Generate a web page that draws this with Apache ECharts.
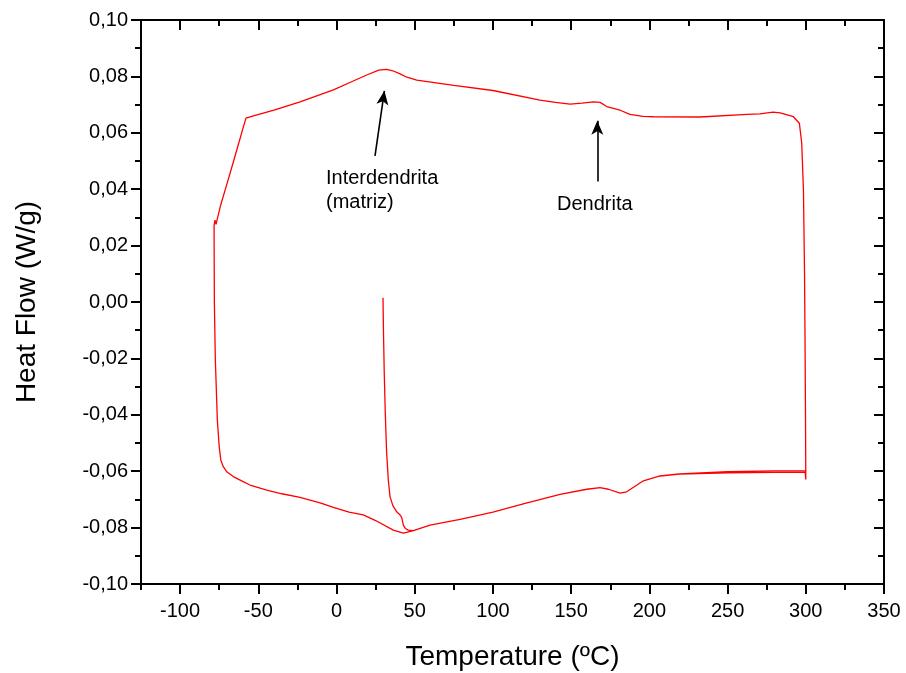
<!DOCTYPE html>
<html>
<head>
<meta charset="utf-8">
<script src="https://cdn.jsdelivr.net/npm/echarts@6/dist/echarts.min.js"></script>
<style>html,body{margin:0;padding:0;background:#fff}#c{width:906px;height:673px}</style>
</head>
<body>
<div id="c"></div>
<script>
// Temperature (ºC) and Heat Flow (W/g)
var dropT   = [29.7, 30.0, 30.5, 31.2, 32.0, 33.1, 34.2, 36.0, 38.5, 40.8, 41.7, 42.3, 42.7, 44.0, 45.9, 49.1];
var dropHF  = [0.0015, -0.010, -0.025, -0.040, -0.053, -0.0631, -0.069, -0.0722, -0.0744, -0.0756, -0.0765, -0.0780, -0.0791, -0.0803, -0.0809, -0.0811];

var heat1T  = [59.8, 79.0, 100, 120, 142.9, 160, 168.5, 173.8, 181.3, 185.5, 196.2, 206.8, 219.2, 250, 280, 299.6, 300.0];
var heat1HF = [-0.0791, -0.0771, -0.0745, -0.0715, -0.0682, -0.0664, -0.0658, -0.0664, -0.0678, -0.0673, -0.0634, -0.0617, -0.0610, -0.0606, -0.0604, -0.0604, -0.0629];

var coolT   = [299.9, 299.6, 299.2, 298.5, 297.4, 295.9, 292.1, 283.6, 279.1, 270.7, 262.5, 232.4, 202.6, 196.0, 187.6, 181.3, 172.7, 168.5, 164.2, 157.0, 149.3, 140.0, 130.1, 100, 75, 51.3, 45.0, 40.6, 36.0, 32.1, 27.0, 19.3, 10.0, -2.0, -23.3, -40.0, -52.0, -57.9, -60.0, -65.0, -70.0, -74.0, -76.4, -77.0, -77.7, -78.0, -78.3];
var coolHF  = [-0.050, -0.020, 0.010, 0.0397, 0.0563, 0.0634, 0.0657, 0.0671, 0.0673, 0.0667, 0.0665, 0.0656, 0.0657, 0.0658, 0.0665, 0.0680, 0.0693, 0.0708, 0.0710, 0.0705, 0.0702, 0.0708, 0.0716, 0.0750, 0.0768, 0.0787, 0.0797, 0.0809, 0.0820, 0.0825, 0.0822, 0.0805, 0.0782, 0.0752, 0.0710, 0.0680, 0.0662, 0.0652, 0.0612, 0.0515, 0.0420, 0.0345, 0.0290, 0.0275, 0.0290, 0.0285, 0.0270];

var heat2T  = [-78.3, -78.1, -77.5, -76.2, -75.0, -74.0, -72.4, -70.0, -66.0, -60.0, -55.3, -44.6, -35.0, -23.3, -10.0, -2.0, 8.0, 17.1, 25.0, 36.3, 42.7, 49.1, 59.8, 79.0, 100, 120, 142.9, 160, 168.5, 173.8, 181.3, 185.5, 196.2, 206.8, 219.2, 250, 280, 299.6];
var heat2HF = [0.0270, 0.0000, -0.0200, -0.0418, -0.0513, -0.0560, -0.0584, -0.0603, -0.0619, -0.0636, -0.0649, -0.0667, -0.0680, -0.0693, -0.0713, -0.0728, -0.0745, -0.0755, -0.0775, -0.0809, -0.0820, -0.0811, -0.0791, -0.0771, -0.0745, -0.0715, -0.0682, -0.0664, -0.0658, -0.0664, -0.0678, -0.0673, -0.0634, -0.0617, -0.0610, -0.0602, -0.0599, -0.0599];

var xTicks      = [-100, -50, 0, 50, 100, 150, 200, 250, 300, 350];
var xMinorTicks = [-125, -75, -25, 25, 75, 125, 175, 225, 275, 325];
var yTicks = [-0.10, -0.08, -0.06, -0.04, -0.02, 0.00, 0.02, 0.04, 0.06, 0.08, 0.10];

var annInterT = [24.6, 30.6], annInterHF = [0.0518, 0.0749];
var annDendT  = [166.7, 166.7], annDendHF = [0.0427, 0.0643];

function pairs(a, b) { return a.map(function (v, i) { return [v, b[i]]; }); }
var path = [].concat(pairs(dropT, dropHF), pairs(heat1T, heat1HF), pairs(coolT, coolHF), pairs(heat2T, heat2HF));

var FONT = 'Liberation Sans, Arial, sans-serif';
var chart = echarts.init(document.getElementById('c'), null, {renderer: 'canvas'});

function xAx(pos, major, inside, showLine) {
  var showLabel = major && pos === 'bottom';
  return {
    type: 'value', position: pos, min: -125, max: 350,
    axisLine: {show: showLine, onZero: false, lineStyle: {color: '#000', width: 2}},
    axisTick: {show: true, inside: inside, length: major ? 10 : 6,
      customValues: major ? xTicks : xMinorTicks, lineStyle: {color: '#000', width: 2}},
    minorTick: {show: false},
    splitLine: {show: false}, minorSplitLine: {show: false},
    axisLabel: {show: showLabel, customValues: xTicks, color: '#000', fontFamily: FONT, fontSize: 20, margin: 17,
      formatter: function (v) { return String(Math.round(v)); }},
    name: showLabel ? 'Temperature (ºC)' : '', nameLocation: 'middle', nameGap: 59,
    nameTextStyle: {color: '#000', fontFamily: FONT, fontSize: 28}
  };
}
function yAx(pos, showLabel, inside) {
  return {
    type: 'value', position: pos, min: -0.1, max: 0.1, interval: 0.02,
    axisLine: {show: true, onZero: false, lineStyle: {color: '#000', width: 2}},
    axisTick: {show: true, inside: inside, length: 10, lineStyle: {color: '#000', width: 2}},
    minorTick: {show: true, splitNumber: 2, length: 6, lineStyle: {color: '#000', width: 2}},
    splitLine: {show: false}, minorSplitLine: {show: false},
    axisLabel: {show: showLabel, color: '#000', fontFamily: FONT, fontSize: 20, margin: 13,
      formatter: function (v) { return v.toFixed(2).replace('.', ',').replace('-0,00', '0,00'); }},
    name: showLabel ? 'Heat Flow (W/g)' : '', nameLocation: 'middle', nameGap: 100,
    nameTextStyle: {color: '#000', fontFamily: FONT, fontSize: 28}
  };
}

chart.setOption({
  animation: false,
  backgroundColor: '#fff',
  grid: {left: 141, top: 20, width: 743, height: 564, containLabel: false, outerBoundsMode: 'none'},
  xAxis: [xAx('bottom', true, false, true), xAx('top', true, true, true),
          xAx('bottom', false, false, false), xAx('top', false, true, false)],
  yAxis: [yAx('left', true, false), yAx('right', false, true)],
  series: [{
    type: 'line', xAxisIndex: 0, yAxisIndex: 0, data: path,
    showSymbol: false, symbol: 'none', smooth: false,
    lineStyle: {color: '#ff0000', width: 1.3},
    markLine: {
      silent: true, symbol: ['none', 'arrow'], symbolSize: [9, 14],
      lineStyle: {color: '#000', width: 1.6, type: 'solid'},
      label: {show: false},
      data: [
        [{coord: [annInterT[0], annInterHF[0]]}, {coord: [annInterT[1], annInterHF[1]]}],
        [{coord: [annDendT[0], annDendHF[0]]}, {coord: [annDendT[1], annDendHF[1]]}]
      ]
    }
  }],
  graphic: [
    {type: 'text', left: 326, top: 166, style: {text: 'Interdendrita\n(matriz)', font: '20px ' + FONT, fill: '#000', lineHeight: 24}},
    {type: 'text', left: 557, top: 192, style: {text: 'Dendrita', font: '20px ' + FONT, fill: '#000', lineHeight: 24}}
  ]
});
</script>
</body>
</html>
